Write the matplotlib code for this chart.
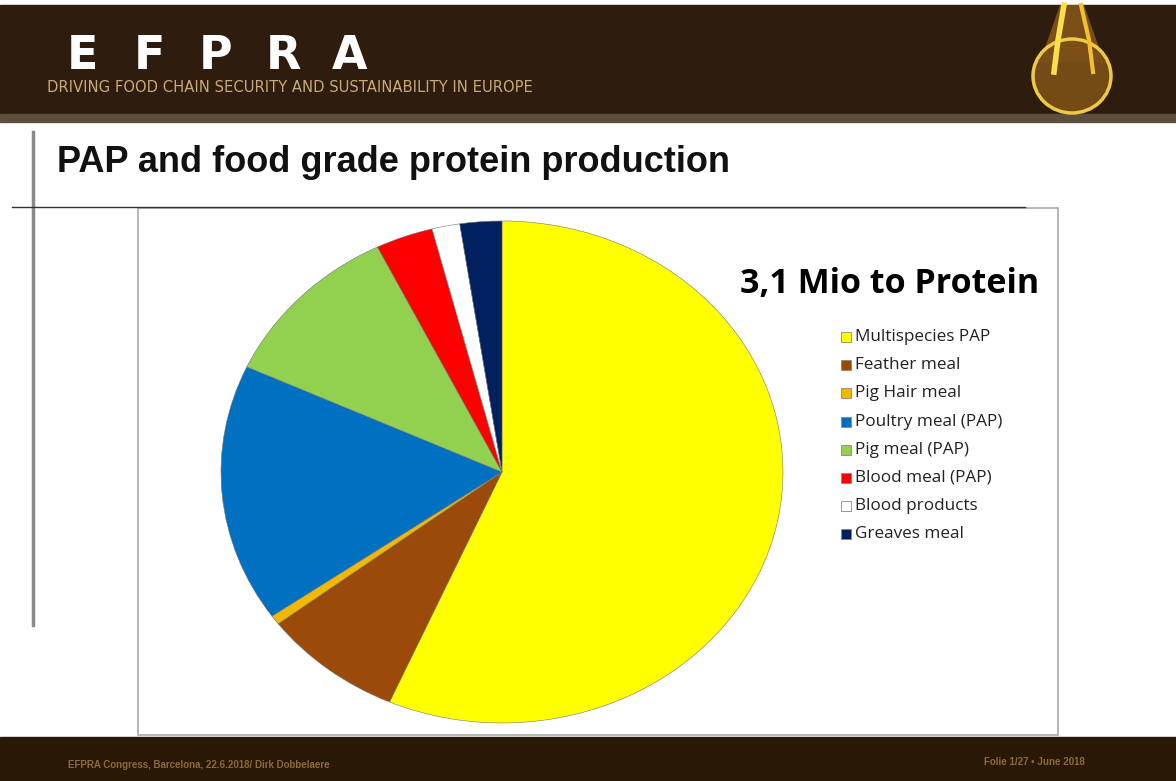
import matplotlib.pyplot as plt
from matplotlib.patches import Rectangle, Ellipse, Polygon

# data (shares in %)
labels = ['Multispecies PAP', 'Feather meal', 'Pig Hair meal', 'Poultry meal (PAP)',
          'Pig meal (PAP)', 'Blood meal (PAP)', 'Blood products', 'Greaves meal']
shares = [56.5, 8.1, 0.6, 16.6, 10.8, 3.3, 1.6, 2.4]
colors = ['#FFFF00', '#9C4A0A', '#F2B800', '#0070C0', '#92D050', '#FF0000', '#FFFFFF', '#002060']

W, H = 1176, 781
fig = plt.figure(figsize=(W / 100, H / 100), dpi=100)
fig.patch.set_facecolor('white')

# slide background / decorations, in pixel coordinates
bg = fig.add_axes([0, 0, 1, 1])
bg.set_xlim(0, W)
bg.set_ylim(H, 0)
bg.axis('off')

brown = '#2E1D0E'
bg.add_patch(Rectangle((0, 5), W, 116, color=brown, zorder=0))
bg.add_patch(Rectangle((0, 114), W, 8, color='#5E4E3E', zorder=0))
bg.add_patch(Rectangle((0, 737), W, 44, color='#2A1806', zorder=0))

# EFPRA logo
for i, ch in enumerate('EFPRA'):
    bg.text(82 + i * 67, 69, ch, color='white', fontsize=33, fontweight='heavy',
            family='DejaVu Sans', va='baseline', ha='center')
bg.text(47, 79.5, 'DRIVING FOOD CHAIN SECURITY AND SUSTAINABILITY IN EUROPE',
        color='#C9A97A', fontsize=10.6, family='DejaVu Sans', va='top')

# oil drop
bg.add_patch(Polygon([[1060, 5], [1084, 5], [1104, 62], [1040, 62]], closed=True,
                     facecolor='#7A4E16', edgecolor='none', zorder=1))
bg.add_patch(Ellipse((1072, 76), 78, 74, facecolor='#7A4E16', edgecolor='#F5D34A',
                     lw=2.5, alpha=0.95, zorder=1))
bg.plot([1064, 1058, 1054], [5, 40, 72], color='#F7E04A', lw=4, zorder=2)
bg.plot([1081, 1089, 1093], [5, 40, 72], color='#F0C030', lw=3, zorder=2)

# title and rules
bg.text(57, 162, 'PAP and food grade protein production', fontsize=26,
        fontweight='bold', family='Liberation Sans', va='center', color='#111111')
bg.plot([33, 33], [132, 625], color='#8A8A8A', lw=2.5)
bg.plot([12, 1025], [207, 207], color='#333333', lw=1)

# chart box
bg.add_patch(Rectangle((138, 208), 920, 527, facecolor='white', edgecolor='#AAAAAA',
                       lw=1.2, zorder=1))

# footer
bg.text(68, 765, 'EFPRA Congress, Barcelona, 22.6.2018/ Dirk Dobbelaere', color='#8C6A3C',
        fontsize=7, fontweight='bold', family='Liberation Sans', va='center')
bg.text(1085, 762, 'Folie 1/27 \u2022 June 2018', color='#8C6A3C', fontsize=7,
        fontweight='bold', family='Liberation Sans', va='center', ha='right')

# pie
cx, cy, rx, ry = 502, 472, 281, 251
ax = fig.add_axes([(cx - rx) / W, 1 - (cy + ry) / H, 2 * rx / W, 2 * ry / H])
ax.pie(shares, colors=colors, startangle=90, counterclock=False,
       wedgeprops=dict(edgecolor='#777777', linewidth=0.4))
ax.set_aspect('auto')
ax.set_xlim(-1, 1)
ax.set_ylim(-1, 1)

bg.text(890, 284, '3,1 Mio to Protein', fontsize=24.5, fontweight='bold',
        family='Open Sans', va='center', ha='center', zorder=3)

# legend
for i, (lab, col) in enumerate(zip(labels, colors)):
    y = 337 + i * 28.2
    bg.add_patch(Rectangle((841, y - 5), 10, 10, facecolor=col, edgecolor='#888888',
                           lw=0.6, zorder=3))
    bg.text(855, y, lab, fontsize=12.3, family='Open Sans', va='center', color='#222222',
            zorder=3)

fig.savefig('out.png', dpi=100)
